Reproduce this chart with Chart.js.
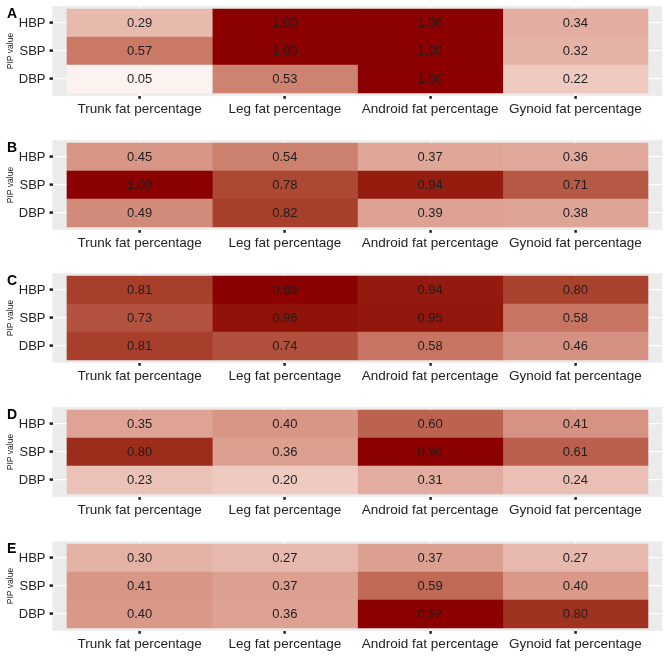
<!DOCTYPE html>
<html><head><meta charset="utf-8">
<script src="https://cdn.jsdelivr.net/npm/chart.js@4/dist/chart.umd.min.js"></script>
<style>
html,body{margin:0;padding:0;background:#fff;}
#wrap{position:relative;width:669px;height:669px;overflow:hidden;background:#fff;}
#wrap canvas{position:absolute;left:0;}
.lbl{position:absolute;left:7px;font:bold 14px "Liberation Sans",Arial,sans-serif;line-height:14px;color:#000;}
</style></head><body><div id="wrap"></div>
<script>
// ---- data ----
const rowLabels = ["HBP", "SBP", "DBP"];
const columnLabels = ["Trunk fat percentage", "Leg fat percentage", "Android fat percentage", "Gynoid fat percentage"];
const panelNames = ["A", "B", "C", "D", "E"];
// each panel: rows HBP, SBP, DBP; columns Trunk, Leg, Android, Gynoid
const panelA = [[0.29, 1.00, 1.00, 0.34], [0.57, 1.00, 1.00, 0.32], [0.05, 0.53, 1.00, 0.22]];
const panelB = [[0.45, 0.54, 0.37, 0.36], [1.00, 0.78, 0.94, 0.71], [0.49, 0.82, 0.39, 0.38]];
const panelC = [[0.81, 0.99, 0.94, 0.80], [0.73, 0.96, 0.95, 0.58], [0.81, 0.74, 0.58, 0.46]];
const panelD = [[0.35, 0.40, 0.60, 0.41], [0.80, 0.36, 0.90, 0.61], [0.23, 0.20, 0.31, 0.24]];
const panelE = [[0.30, 0.27, 0.37, 0.27], [0.41, 0.37, 0.59, 0.40], [0.40, 0.36, 0.92, 0.80]];
const panels = [panelA, panelB, panelC, panelD, panelE];

// ---- layout / style ----
const panelTops = [0, 134, 267, 401, 535];
const H = 134;
const FONT = '"Liberation Sans", Arial, sans-serif';
const LOW = [255, 255, 255], HIGH = [139, 0, 0];

function s2l(c){ c/=255; return c<=0.04045 ? c/12.92 : Math.pow((c+0.055)/1.055, 2.4); }
function l2s(c){ c = c<=0.0031308 ? 12.92*c : 1.055*Math.pow(c,1/2.4)-0.055; return Math.round(Math.max(0,Math.min(1,c))*255); }
const Xn=0.95047, Yn=1, Zn=1.08883;
function rgbToLab(rgb){
  const R=s2l(rgb[0]), G=s2l(rgb[1]), B=s2l(rgb[2]);
  const X=0.4124*R+0.3576*G+0.1805*B, Y=0.2126*R+0.7152*G+0.0722*B, Z=0.0193*R+0.1192*G+0.9505*B;
  const f=t=> t>0.008856 ? Math.cbrt(t) : 7.787*t+16/116;
  const fx=f(X/Xn), fy=f(Y/Yn), fz=f(Z/Zn);
  return [116*fy-16, 500*(fx-fy), 200*(fy-fz)];
}
function labToRgb(lab){
  const fy=(lab[0]+16)/116, fx=fy+lab[1]/500, fz=fy-lab[2]/200;
  const fi=t=> t*t*t>0.008856 ? t*t*t : (t-16/116)/7.787;
  const X=Xn*fi(fx), Y=Yn*fi(fy), Z=Zn*fi(fz);
  const R=3.2406*X-1.5372*Y-0.4986*Z, G=-0.9689*X+1.8758*Y+0.0415*Z, B=0.0557*X-0.2040*Y+1.0570*Z;
  return [l2s(R), l2s(G), l2s(B)];
}
const labLow = rgbToLab(LOW), labHigh = rgbToLab(HIGH);
function fillFor(v, vmax){
  const t = Math.max(0, Math.min(1, v / vmax));
  const lab = [0,1,2].map(i => labLow[i] + (labHigh[i]-labLow[i])*t);
  const c = labToRgb(lab);
  return `rgb(${c[0]},${c[1]},${c[2]})`;
}

const panelBg = {
  id: 'panelBg',
  beforeDraw(chart){
    const a = chart.chartArea, ctx = chart.ctx;
    ctx.save(); ctx.fillStyle = '#EBEBEB';
    ctx.fillRect(a.left, a.top, a.right - a.left, a.bottom - a.top);
    ctx.restore();
  }
};
const cellText = {
  id: 'cellText',
  afterDatasetsDraw(chart){
    const vals = chart.config.options.plugins.cellText.values;
    const ctx = chart.ctx;
    ctx.save();
    ctx.font = '13px ' + FONT;
    ctx.fillStyle = '#1e1e1e';
    ctx.textAlign = 'center';
    ctx.textBaseline = 'middle';
    chart.data.datasets.forEach((ds, ci) => {
      chart.getDatasetMeta(ci).data.forEach((el, ri) => {
        const p = el.getCenterPoint();
        ctx.fillText(vals[ri][ci].toFixed(2), p.x, p.y + 0.5);
      });
    });
    ctx.restore();
  }
};

Chart.defaults.font.family = FONT;
const wrap = document.getElementById('wrap');

panels.forEach((vals, pi) => {
  const cv = document.createElement('canvas');
  cv.width = 669; cv.height = H;
  cv.style.top = panelTops[pi] + 'px';
  wrap.appendChild(cv);
  const lab = document.createElement('div');
  lab.className = 'lbl';
  lab.textContent = panelNames[pi];
  lab.style.top = (panelTops[pi] + 6) + 'px';
  wrap.appendChild(lab);

  const vmax = Math.max(...vals.flat());
  new Chart(cv, {
    type: 'bar',
    data: {
      datasets: columnLabels.map((col, ci) => ({
        label: col,
        stack: 'tiles',
        data: rowLabels.map((r, ri) => ({ x: [ci, ci + 1], y: ri })),
        backgroundColor: rowLabels.map((r, ri) => fillFor(vals[ri][ci], vmax)),
        borderWidth: 0,
        barPercentage: 1,
        categoryPercentage: 1
      }))
    },
    options: {
      indexAxis: 'y',
      responsive: false,
      animation: false,
      events: [],
      layout: { padding: { top: 6.2, right: 6.5, left: 0, bottom: 0 } },
      plugins: {
        legend: { display: false },
        tooltip: { enabled: false },
        cellText: { values: vals }
      },
      scales: {
        x: {
          type: 'linear', min: -0.1, max: 4.1, offset: false, stacked: false,
          afterBuildTicks: s => { s.ticks = columnLabels.map((c, i) => ({ value: i + 0.5 })); },
          afterFit: s => { s.height = H - 95.8; s.paddingLeft = 0; s.paddingRight = 0; },
          ticks: { autoSkip: false, maxRotation: 0, minRotation: 0, padding: 2, color: '#222',
                   font: { size: 13.5 }, callback: (v, i) => columnLabels[i] },
          grid: { offset: false, color: '#ffffff', lineWidth: 1.2, tickLength: 3, tickColor: '#222', tickWidth: 2.5 },
          border: { display: false }
        },
        y: {
          type: 'linear', min: -0.6, max: 2.6, reverse: true, stacked: true, offset: false,
          afterBuildTicks: s => { s.ticks = rowLabels.map((r, i) => ({ value: i })); },
          afterFit: s => { s.width = 52.5; s.paddingTop = 0; s.paddingBottom = 0; },
          ticks: { autoSkip: false, padding: 4, color: '#222', font: { size: 13 },
                   callback: (v, i) => rowLabels[i] },
          grid: { offset: false, color: '#ffffff', lineWidth: 1.2, tickLength: 3, tickColor: '#222', tickWidth: 2.5 },
          border: { display: false },
          title: { display: true, text: 'PIP value', color: '#222', font: { size: 8.5 }, padding: { top: 6, bottom: 0 } }
        }
      }
    },
    plugins: [panelBg, cellText]
  });
});
</script>
</body></html>
